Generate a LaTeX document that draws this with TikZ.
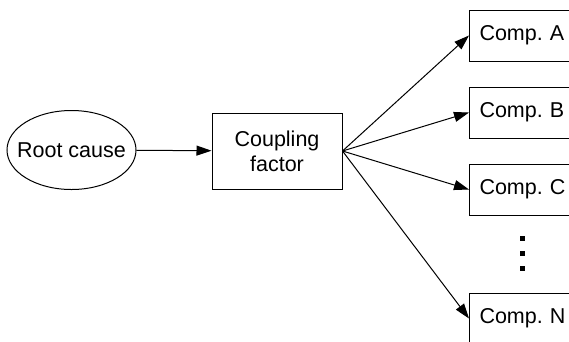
\documentclass[tikz,border=0pt]{standalone}
\usepackage{fontspec}
\setmainfont{Liberation Sans}
\usetikzlibrary{shapes.geometric,arrows.meta}
\tikzset{
  comp/.style={draw,line width=1pt,anchor=west,minimum height=51pt,text width=100pt,align=left,inner xsep=10pt,inner ysep=0pt},
  arr/.style={line width=1pt,-{Triangle[length=15pt,width=10pt]}}
}
\begin{document}
\begin{tikzpicture}[x=1pt,y=-1pt,font=\fontsize{21.5}{25}\selectfont\frenchspacing]
\useasboundingbox (0,0) rectangle (569,341);
\clip (0,0) rectangle (569,341);
\node (root) [draw,line width=1pt,ellipse,minimum width=129pt,minimum height=79pt,inner xsep=-9pt,inner ysep=0pt] at (71.5,150) {Root cause};
\node (coupling) [draw,line width=1pt,minimum width=130pt,minimum height=76pt,align=center] at (277,151) {Coupling\\factor};
\node (compA) [comp] at (469,35.5) {Comp. A};
\node (compB) [comp] at (469,112.5) {Comp. B};
\node (compC) [comp] at (469,189.5) {Comp. C};
\node (compN) [comp] at (469,318.5) {Comp. N};
\foreach \y in {238,253,268}
  \fill (519.5,\y-2.5) rectangle ++(5,5);
\draw [arr] (root) -- (coupling);
\foreach \c in {compA,compB,compC,compN}
  \draw [arr] (coupling.east) -- (\c.west);
\end{tikzpicture}
\end{document}
